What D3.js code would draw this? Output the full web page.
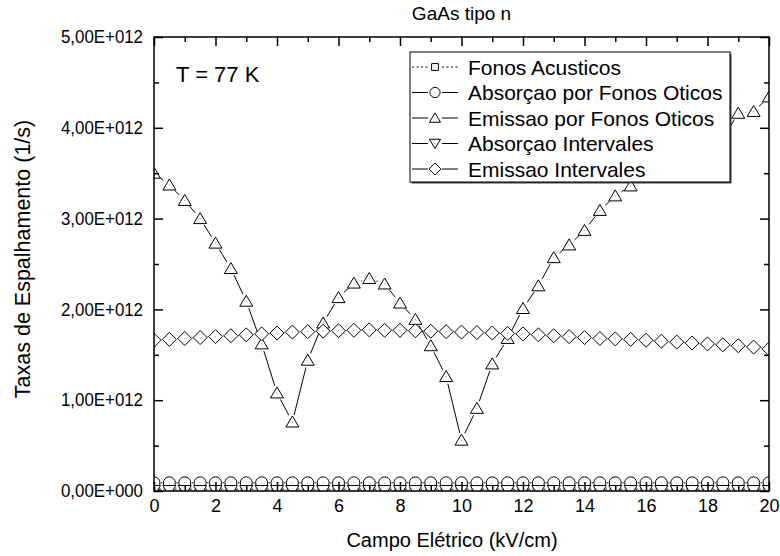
<!DOCTYPE html>
<html>
<head>
<meta charset="utf-8">
<script src="https://cdn.jsdelivr.net/npm/d3@7"></script>
<style>
  body { margin: 0; background: #fff; }
  svg { display: block; }
  text { font-family: "Liberation Sans", Arial, Helvetica, sans-serif; fill: #000; }
</style>
</head>
<body>
<svg id="chart" width="780" height="556"></svg>
<script>
// Electric field (kV/cm)
const campo = [0, 0.5, 1, 1.5, 2, 2.5, 3, 3.5, 4, 4.5, 5, 5.5, 6, 6.5, 7, 7.5, 8, 8.5, 9, 9.5,
               10, 10.5, 11, 11.5, 12, 12.5, 13, 13.5, 14, 14.5, 15, 15.5, 16, 16.5, 17, 17.5, 18, 18.5, 19, 19.5, 20];

// Scattering rates (1/s)
const fonosAcusticos = [0.02e12, 0.02e12, 0.02e12, 0.02e12, 0.02e12, 0.02e12, 0.02e12, 0.02e12, 0.02e12, 0.02e12,
                        0.02e12, 0.02e12, 0.02e12, 0.02e12, 0.02e12, 0.02e12, 0.02e12, 0.02e12, 0.02e12, 0.02e12,
                        0.02e12, 0.02e12, 0.02e12, 0.02e12, 0.02e12, 0.02e12, 0.02e12, 0.02e12, 0.02e12, 0.02e12,
                        0.02e12, 0.02e12, 0.02e12, 0.02e12, 0.02e12, 0.02e12, 0.02e12, 0.02e12, 0.02e12, 0.02e12, 0.02e12];
const absorcaoOticos = [0.09e12, 0.09e12, 0.09e12, 0.09e12, 0.09e12, 0.09e12, 0.09e12, 0.09e12, 0.09e12, 0.09e12,
                        0.09e12, 0.09e12, 0.09e12, 0.09e12, 0.09e12, 0.09e12, 0.09e12, 0.09e12, 0.09e12, 0.09e12,
                        0.09e12, 0.09e12, 0.09e12, 0.09e12, 0.09e12, 0.09e12, 0.09e12, 0.09e12, 0.09e12, 0.09e12,
                        0.09e12, 0.09e12, 0.09e12, 0.09e12, 0.09e12, 0.09e12, 0.09e12, 0.09e12, 0.09e12, 0.09e12, 0.09e12];
const emissaoOticos = [3.50e12, 3.37e12, 3.20e12, 3.00e12, 2.73e12, 2.45e12, 2.09e12, 1.62e12, 1.08e12, 0.76e12,
                       1.44e12, 1.85e12, 2.13e12, 2.29e12, 2.34e12, 2.28e12, 2.07e12, 1.89e12, 1.60e12, 1.26e12,
                       0.56e12, 0.91e12, 1.40e12, 1.68e12, 2.01e12, 2.26e12, 2.57e12, 2.71e12, 2.87e12, 3.09e12,
                       3.25e12, 3.36e12, 3.47e12, 3.57e12, 3.66e12, 3.74e12, 3.81e12, 3.88e12, 4.16e12, 4.18e12, 4.34e12];
const absorcaoIntervales = [0.005e12, 0.005e12, 0.005e12, 0.005e12, 0.005e12, 0.005e12, 0.005e12, 0.005e12, 0.005e12, 0.005e12,
                            0.005e12, 0.005e12, 0.005e12, 0.005e12, 0.005e12, 0.005e12, 0.005e12, 0.005e12, 0.005e12, 0.005e12,
                            0.005e12, 0.005e12, 0.005e12, 0.005e12, 0.005e12, 0.005e12, 0.005e12, 0.005e12, 0.005e12, 0.005e12,
                            0.005e12, 0.005e12, 0.005e12, 0.005e12, 0.005e12, 0.005e12, 0.005e12, 0.005e12, 0.005e12, 0.005e12, 0.005e12];
const emissaoIntervales = [1.66e12, 1.67e12, 1.68e12, 1.69e12, 1.70e12, 1.71e12, 1.72e12, 1.73e12, 1.74e12, 1.75e12,
                           1.755e12, 1.76e12, 1.765e12, 1.77e12, 1.775e12, 1.77e12, 1.77e12, 1.765e12, 1.76e12, 1.755e12,
                           1.75e12, 1.745e12, 1.74e12, 1.735e12, 1.73e12, 1.72e12, 1.71e12, 1.70e12, 1.69e12, 1.68e12,
                           1.675e12, 1.67e12, 1.66e12, 1.65e12, 1.64e12, 1.63e12, 1.62e12, 1.61e12, 1.60e12, 1.585e12, 1.565e12];

const seriesNames = ["Fonos Acusticos", "Absorçao por Fonos Oticos", "Emissao por Fonos Oticos",
                     "Absorçao Intervales", "Emissao Intervales"];
const seriesShapes = ["square", "circle", "triangleUp", "triangleDown", "diamond"];
const seriesDash = ["2,2.5", null, null, null, null];

const xTickValues = [0, 2, 4, 6, 8, 10, 12, 14, 16, 18, 20];
const xMinorTicks = [1, 3, 5, 7, 9, 11, 13, 15, 17, 19];
const yTickValues = [0, 1e12, 2e12, 3e12, 4e12, 5e12];
const yTickLabels = ["0,00E+000", "1,00E+012", "2,00E+012", "3,00E+012", "4,00E+012", "5,00E+012"];
const yMinorTicks = [0.5e12, 1.5e12, 2.5e12, 3.5e12, 4.5e12];

const titleText = "GaAs tipo n";
const tempText = "T = 77 K";
const xTitle = "Campo Elétrico (kV/cm)";
const yTitle = "Taxas de Espalhamento (1/s)";

const seriesValues = [fonosAcusticos, absorcaoOticos, emissaoOticos, absorcaoIntervales, emissaoIntervales];
const series = seriesNames.map((name, i) => ({
  name, shape: seriesShapes[i], dash: seriesDash[i],
  points: campo.map((c, j) => ({ x: c, y: seriesValues[i][j] }))
}));

const svg = d3.select("#chart");
const plot = { left: 154, right: 769, top: 37, bottom: 491 };

const x = d3.scaleLinear().domain([0, 20]).range([plot.left, plot.right]);
const y = d3.scaleLinear().domain([0, 5e12]).range([plot.bottom, plot.top]);

// symbol outlines, centred on the data point
function shapePath(shape, s) {
  switch (shape) {
    case "square": return `M${-4 * s},${-4 * s}H${4 * s}V${4 * s}H${-4 * s}Z`;
    case "triangleUp": return `M0,${-6 * s}L${6.5 * s},${5 * s}L${-6.5 * s},${5 * s}Z`;
    case "triangleDown": return `M0,${6 * s}L${6.5 * s},${-5 * s}L${-6.5 * s},${-5 * s}Z`;
    case "diamond": return `M0,${-7 * s}L${7 * s},0L0,${7 * s}L${-7 * s},0Z`;
    default: return null;
  }
}
const gapFor = { square: 5, circle: 7, triangleUp: 7.5, triangleDown: 7.5, diamond: 7.5 };

function drawSymbol(g, shape, s) {
  if (shape === "circle") {
    g.append("circle").attr("r", 6 * s).attr("fill", "#fff").attr("stroke", "#000").attr("stroke-width", 1);
  } else {
    g.append("path").attr("d", shapePath(shape, s)).attr("fill", "#fff").attr("stroke", "#000").attr("stroke-width", 1);
  }
  g.append("circle").attr("r", 0.6).attr("fill", "#999");
}

svg.append("defs").append("clipPath").attr("id", "plotClip")
  .append("rect").attr("x", plot.left).attr("y", plot.top)
  .attr("width", plot.right - plot.left).attr("height", plot.bottom - plot.top);

const dataLayer = svg.append("g").attr("clip-path", "url(#plotClip)");

series.forEach(s => {
  const g = dataLayer.append("g");
  const gap = gapFor[s.shape];
  // connecting segments, stopped short of each symbol
  const pts = s.points.map(p => [x(p.x), y(p.y)]);
  for (let i = 0; i < pts.length - 1; i++) {
    const [x0, y0] = pts[i], [x1, y1] = pts[i + 1];
    const len = Math.hypot(x1 - x0, y1 - y0);
    if (len <= 2 * gap) continue;
    const ux = (x1 - x0) / len, uy = (y1 - y0) / len;
    g.append("line")
      .attr("x1", x0 + ux * gap).attr("y1", y0 + uy * gap)
      .attr("x2", x1 - ux * gap).attr("y2", y1 - uy * gap)
      .attr("stroke", "#000").attr("stroke-width", 1)
      .attr("stroke-dasharray", s.dash);
  }
  g.selectAll("g.pt").data(s.points).join("g")
    .attr("class", "pt")
    .attr("transform", d => `translate(${x(d.x)},${y(d.y)})`)
    .each(function () { drawSymbol(d3.select(this), s.shape, 1); });
});

// axes: inward ticks on all four sides
const axisStyle = g => {
  g.attr("font-family", null).attr("font-size", null);
  g.selectAll("path.domain").remove();
  g.selectAll("line").attr("stroke", "#000").attr("stroke-width", 1.5);
};

svg.append("g").attr("transform", `translate(0,${plot.bottom})`)
  .call(d3.axisBottom(x).tickValues(xTickValues).tickSize(-9).tickPadding(8).tickFormat(d3.format("d")))
  .call(axisStyle)
  .call(g => g.selectAll("text").style("font-size", "18px"));
svg.append("g").attr("transform", `translate(0,${plot.bottom})`)
  .call(d3.axisBottom(x).tickValues(xMinorTicks).tickSize(-5).tickFormat(""))
  .call(axisStyle);
svg.append("g").attr("transform", `translate(0,${plot.top})`)
  .call(d3.axisTop(x).tickValues(xTickValues).tickSize(-9).tickFormat(""))
  .call(axisStyle);
svg.append("g").attr("transform", `translate(0,${plot.top})`)
  .call(d3.axisTop(x).tickValues(xMinorTicks).tickSize(-5).tickFormat(""))
  .call(axisStyle);

svg.append("g").attr("transform", `translate(${plot.left},0)`)
  .call(d3.axisLeft(y).tickValues(yTickValues).tickSize(-9).tickPadding(11)
    .tickFormat((d, i) => yTickLabels[i]))
  .call(axisStyle)
  .call(g => g.selectAll("text").style("font-size", "18px")
    .attr("textLength", 82).attr("lengthAdjust", "spacingAndGlyphs"));
svg.append("g").attr("transform", `translate(${plot.left},0)`)
  .call(d3.axisLeft(y).tickValues(yMinorTicks).tickSize(-5).tickFormat(""))
  .call(axisStyle);
svg.append("g").attr("transform", `translate(${plot.right},0)`)
  .call(d3.axisRight(y).tickValues(yTickValues).tickSize(-9).tickFormat(""))
  .call(axisStyle);
svg.append("g").attr("transform", `translate(${plot.right},0)`)
  .call(d3.axisRight(y).tickValues(yMinorTicks).tickSize(-5).tickFormat(""))
  .call(axisStyle);

svg.append("rect")
  .attr("x", plot.left).attr("y", plot.top)
  .attr("width", plot.right - plot.left).attr("height", plot.bottom - plot.top)
  .attr("fill", "none").attr("stroke", "#000").attr("stroke-width", 1.5);

// legend
const leg = { x: 410, y: 52, w: 320, h: 130, row0: 67, rowStep: 25.5 };
const legend = svg.append("g");
legend.append("rect").attr("x", leg.x + 1.5).attr("y", leg.y + 1.5)
  .attr("width", leg.w).attr("height", leg.h).attr("fill", "#444");
legend.append("rect").attr("x", leg.x).attr("y", leg.y)
  .attr("width", leg.w).attr("height", leg.h)
  .attr("fill", "#fff").attr("stroke", "#000").attr("stroke-width", 1);

series.forEach((s, i) => {
  const cy = leg.row0 + i * leg.rowStep;
  const row = legend.append("g").attr("transform", `translate(0,${cy})`);
  row.append("line").attr("x1", leg.x + 2).attr("x2", leg.x + 18).attr("y1", 0).attr("y2", 0)
    .attr("stroke", "#000").attr("stroke-dasharray", s.dash);
  row.append("line").attr("x1", leg.x + 32).attr("x2", leg.x + 48).attr("y1", 0).attr("y2", 0)
    .attr("stroke", "#000").attr("stroke-dasharray", s.dash);
  const sym = row.append("g").attr("transform", `translate(${leg.x + 25},0)`);
  drawSymbol(sym, s.shape, 0.85);
  row.append("text").attr("x", leg.x + 58).attr("y", 0).attr("dy", "0.36em")
    .style("font-size", "21px").text(s.name);
});

// titles
svg.append("text").attr("x", (plot.left + plot.right) / 2).attr("y", 20)
  .attr("text-anchor", "middle").style("font-size", "19px").text(titleText);
svg.append("text").attr("x", 176).attr("y", 82)
  .style("font-size", "22px").text(tempText);
svg.append("text").attr("x", 452).attr("y", 547)
  .attr("text-anchor", "middle").style("font-size", "20px").text(xTitle);
svg.append("text").attr("transform", `translate(30,259) rotate(-90)`)
  .attr("text-anchor", "middle").style("font-size", "21.5px").text(yTitle);
</script>
</body>
</html>
